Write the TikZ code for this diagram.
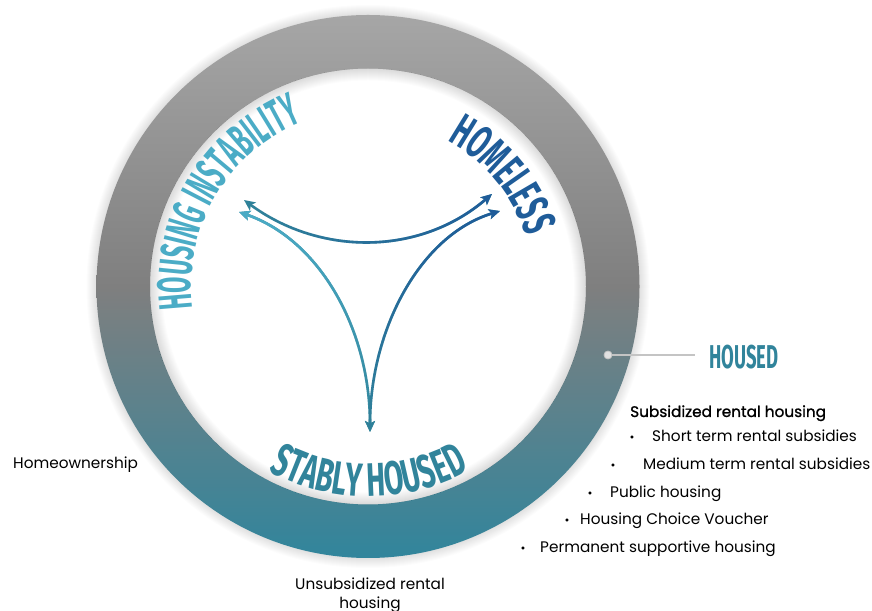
\documentclass[tikz,border=0pt]{standalone}
\usepackage{fontspec}
\setmainfont{Poppins}
\newfontfamily\capsA{Fira Sans}[FakeStretch=0.5]
\newfontfamily\capsB{Fira Sans}[FakeStretch=0.56]
\newfontfamily\capsC{Fira Sans}[FakeStretch=0.6]
\newfontfamily\headfont{Poppins}[FakeBold=1.2]
\usetikzlibrary{arrows.meta,calc,positioning,decorations.text,fadings}
\definecolor{instCol}{HTML}{4BACC6}
\definecolor{homeCol}{HTML}{1F5C99}
\definecolor{stabCol}{HTML}{31849B}
\definecolor{ringTop}{HTML}{A6A6A6}
\definecolor{ringMid}{HTML}{7F7F7F}
\definecolor{ringBot}{HTML}{31859C}
\definecolor{pinCol}{HTML}{C4C4C4}
\pgfdeclareverticalshading{ringshade}{100bp}{color(0bp)=(ringBot); color(25bp)=(ringBot);
  color(50bp)=(ringMid); color(75bp)=(ringTop); color(100bp)=(ringTop)}
\newcommand{\itemstep}{27.6}
\newcommand{\listitem}[4]{%
  \node[bullet] (#1b) at (#2,\LY) {\textbullet};
  \node[listtxt] (#1) at (#3,\LY) {#4};
  \pgfmathsetmacro{\tmp}{\LY-\itemstep}\xdef\LY{\tmp}}
\tikzset{
  arctext/.style={decorate, decoration={text along path, text align=center, text={#1}}},
  flow/.style={line width=2.6pt, {Stealth[length=11pt,width=10pt,inset=2.5pt]}-{Stealth[length=11pt,width=10pt,inset=2.5pt]}},
  listtxt/.style={anchor=base west, inner sep=0pt, font=\fontsize{15.3}{18}\selectfont},
  headtxt/.style={listtxt, font=\headfont\fontsize{15.3}{18}\selectfont},
  bullet/.style={anchor=base, inner sep=0pt, font=\fontsize{12}{12}\selectfont},
}
\begin{document}
\begin{tikzpicture}[x=1pt,y=1pt]
  \def\cx{368}\def\cy{323.5}
  \def\rO{271.5}\def\rI{218}
  \useasboundingbox (0,0) rectangle (872,610);
  \fill[white] (0,0) rectangle (872,610);
  \coordinate (c) at (\cx,\cy);

  % ring with soft shadows
  \foreach \k in {1,...,10}{\fill[black,opacity=0.012] (c) circle[radius=\rO+\k];}
  \fill[white] (c) circle[radius=\rI];
  \shade[even odd rule, shading=ringshade] (c) circle[radius=\rO] (c) circle[radius=\rI];
  \foreach \k in {1,...,12}{\fill[black,opacity=0.012,even odd rule] (c) circle[radius=\rI] (c) circle[radius=\rI-\k];}

  % curved titles
  \path[arctext={|\capsA\bfseries\fontsize{47}{47}\selectfont\color{instCol}|HOUSING INSTABILITY}]
    ($(c)+(200:177)$) arc[start angle=200, end angle=99, radius=177];
  \path[arctext={|\capsB\bfseries\fontsize{47}{47}\selectfont\color{homeCol}|HOMELESS}]
    ($(c)+(79.5:166)$) arc[start angle=79.5, end angle=-0.5, radius=166];
  \path[arctext={|\capsC\bfseries\fontsize{47}{47}\selectfont\color{stabCol}|STABLY HOUSED}]
    ($(c)+(225.3:210)$) arc[start angle=225.3, end angle=315.3, radius=210];

  % arrows between the three states
  \coordinate (instA) at (244,410);
  \coordinate (instB) at (239,398);
  \coordinate (homeA) at (492,416);
  \coordinate (homeB) at (500,399);
  \coordinate (stab) at (370,178);
  \draw[flow, stabCol] (instA) .. controls (320,354) and (420,354) .. (homeA);
  \draw[flow, homeCol, path fading=west] (instA) .. controls (320,354) and (420,354) .. (homeA);
  \draw[flow, stabCol] (instB) .. controls (320,370) and (370,280) .. (stab);
  \draw[flow, instCol, path fading=south] (instB) .. controls (320,370) and (370,280) .. (stab);
  \draw[flow, stabCol] (homeB) .. controls (420,375) and (370,280) .. (stab);
  \draw[flow, homeCol, path fading=south] (homeB) .. controls (420,375) and (370,280) .. (stab);

  % housed pin
  \node[font=\capsB\bfseries\fontsize{33}{33}\selectfont, text=stabCol, anchor=west, inner sep=0pt] (housed) at (709,252.5) {HOUSED};
  \node[circle, fill=pinCol!50, draw=pinCol, line width=0.8pt, minimum size=8pt, inner sep=0pt] (hdot) at (608,255) {};
  \draw[pinCol, line width=2.6pt] (hdot) -- ($(hdot -| housed.west)+(-14,0)$);

  % housing options
  \node[headtxt] (subs) at (630,193) {Subsidized rental housing};
  \def\LY{168}
  \listitem{short}{632}{652}{Short term rental subsidies}
  \listitem{medium}{613}{643}{Medium term rental subsidies}
  \listitem{public}{590}{610}{Public housing}
  \listitem{hcv}{567}{580}{Housing Choice Voucher}
  \listitem{psh}{523}{540}{Permanent supportive housing}
  \node[listtxt] (own) at (13,141) {Homeownership};
  \node[align=center, inner sep=0pt, anchor=north, font=\fontsize{15.3}{19}\selectfont] (unsub) at (370,32) {Unsubsidized rental\\housing};
\end{tikzpicture}
\end{document}
